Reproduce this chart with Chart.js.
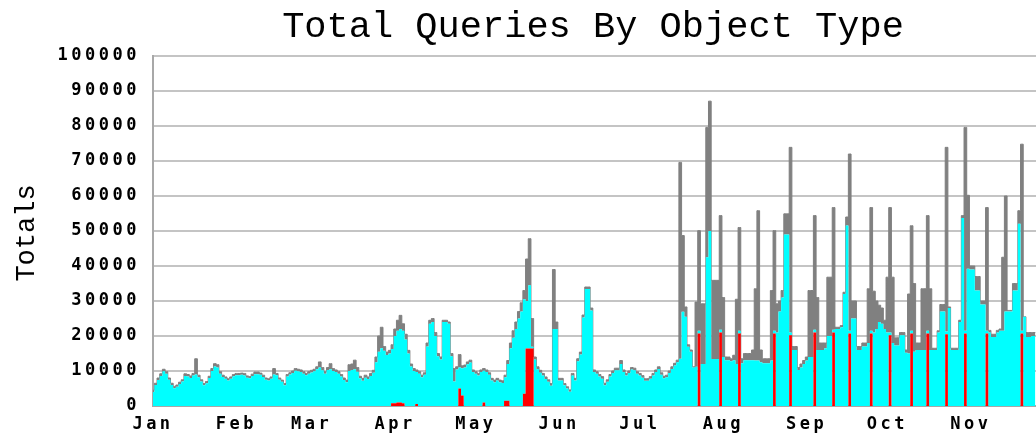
<!DOCTYPE html>
<html>
<head>
<meta charset="utf-8">
<title>Total Queries By Object Type</title>
<script src="https://cdn.jsdelivr.net/npm/chart.js@4"></script>
<style>
  html, body { margin: 0; padding: 0; background: #fff; overflow: hidden; }
  #wrap { width: 1036px; height: 435px; }
</style>
</head>
<body>
<div id="wrap"><canvas id="queryChart" width="1036" height="435"></canvas></div>
<script>
const chartTitle = 'Total Queries By Object Type';
const yTitle = 'Totals';

// month labels and the day (from Jan 1) each one starts on
const months = ['Jan', 'Feb', 'Mar', 'Apr', 'May', 'Jun', 'Jul', 'Aug', 'Sep', 'Oct', 'Nov'];
const monthStart = [0, 31, 59, 90, 120, 151, 181, 212, 243, 273, 304];

// daily totals, all object types stacked (top of the grey)
const totalQueries = [
  4500, 6500, 8000, 9200, 10500, 9800, 8000, 6500, 5600, 6000,
  6800, 7500, 9200, 9000, 8600, 9300, 13500, 8800, 7500, 6400,
  7000, 8500, 10700, 12100, 11800, 9800, 8800, 8300, 7800, 8300,
  9000, 9300, 9300, 9400, 9300, 8600, 8400, 9100, 9700, 9700,
  9400, 8800, 8000, 7800, 8300, 10700, 9300, 8000, 7400, 6400,
  9000, 9500, 10000, 10700, 10500, 10300, 9800, 9300, 9800, 10200,
  10500, 11200, 12600, 11000, 9800, 11000, 12100, 10700, 10300, 9800,
  9000, 8000, 7400, 11800, 12000, 13100, 11000, 8500, 7900, 8800,
  8300, 9300, 10200, 14000, 20000, 22500, 17000, 15400, 15900, 17500,
  22000, 24500, 25900, 23500, 20500, 15900, 12000, 10700, 10300, 9800,
  8800, 9500, 18000, 24500, 25000, 21000, 15000, 14000, 24500, 24500,
  24000, 15000, 10700, 11200, 14700, 11500, 11700, 12600, 13100, 10300,
  9800, 9300, 10300, 10700, 10300, 9500, 7900, 7400, 7900, 7400,
  7200, 8800, 13000, 18000, 21500, 24000, 27000, 29500, 33000, 42000,
  47800, 25000, 14000, 11200, 10200, 9300, 8300, 7500, 6400, 39000,
  24000, 7900, 7900, 6400, 5500, 4600, 9300, 7900, 13500, 15400,
  26000, 34000, 34000, 28000, 10300, 9800, 9000, 8400, 6500, 7500,
  9000, 10000, 10800, 10800, 13000, 10300, 9300, 10000, 11000, 10800,
  9800, 9300, 8700, 7800, 7800, 8400, 9300, 10300, 11200, 9500,
  8500, 8800, 10000, 11200, 12200, 13100, 69600, 48700, 28300, 17500,
  16000, 11200, 29700, 50100, 29200, 29200, 79600, 87100, 35900, 35900,
  35900, 54400, 31000, 14000, 14000, 13500, 14500, 30500, 51000, 13500,
  15000, 15000, 15000, 16000, 33500, 55800, 16000, 13500, 13500, 13500,
  33000, 50100, 29200, 30000, 33000, 54900, 54900, 73900, 17000, 17000,
  11000, 12000, 13000, 14000, 33000, 33000, 54400, 31000, 18000, 18000,
  18000, 36800, 36800, 56700, 22500, 22500, 23000, 32500, 54000, 72000,
  30000, 30000, 17000, 17000, 18000, 18000, 33500, 56700, 32800, 30000,
  28800, 28000, 24500, 36800, 56700, 36800, 19500, 19500, 21000, 21000,
  16000, 32000, 51500, 35000, 18000, 18000, 33500, 33500, 54400, 33500,
  16500, 16500, 21500, 29000, 29000, 73900, 28300, 16500, 16500, 16500,
  24500, 54400, 79600, 60200, 40000, 40000, 37000, 37000, 30000, 30000,
  56700, 21600, 20500, 20500, 21600, 22000, 42500, 60000, 27300, 27300,
  35000, 35000, 55800, 74800, 25500, 21000, 21000, 21000, 21000
];

// cyan layer (its own height, sits on top of the red)
const cyanQueries = [
  4000, 6000, 7400, 8600, 9900, 9200, 7500, 6000, 5100, 5500,
  6300, 7000, 8600, 8400, 8000, 8700, 9000, 8200, 7000, 5900,
  6500, 8000, 10000, 11300, 11000, 9200, 8300, 7800, 7300, 7800,
  8500, 8800, 8800, 8900, 8700, 8100, 7900, 8600, 9100, 9100,
  8900, 8300, 7500, 7300, 7800, 9000, 8800, 7500, 6900, 5900,
  8400, 9000, 9400, 10100, 9900, 9700, 9200, 8800, 9200, 9600,
  9900, 10500, 11000, 10200, 9200, 10300, 10500, 10000, 9700, 9200,
  8400, 7400, 6800, 10000, 10300, 10500, 9800, 7900, 7200, 8100,
  7700, 8600, 9500, 12500, 15500, 16500, 15800, 14600, 15000, 15500,
  19200, 20500, 21000, 20700, 19000, 15000, 11300, 10000, 9100, 9200,
  8200, 8900, 17000, 23500, 24000, 20000, 14200, 13300, 24000, 24000,
  23500, 14200, 7000, 10400, 6000, 7800, 11000, 11900, 12400, 9700,
  9200, 8700, 9700, 9100, 9700, 8900, 7300, 6800, 7300, 6800,
  6600, 6700, 10500, 16500, 19500, 22000, 25000, 27000, 27000, 13600,
  18100, 500, 13300, 10500, 9500, 8700, 7700, 6900, 5800, 22000,
  22000, 7300, 7300, 5900, 5000, 4100, 8700, 7300, 12800, 14700,
  25300, 33400, 33400, 27300, 9700, 9200, 8400, 7800, 5900, 6900,
  8400, 9400, 10200, 10200, 12000, 9700, 8700, 9400, 10400, 10200,
  9200, 8700, 8100, 7200, 7200, 7800, 8700, 9700, 10600, 8900,
  7900, 8200, 9400, 10600, 11600, 12500, 13500, 26900, 25500, 16900,
  15500, 11000, 11200, 800, 12000, 12000, 42500, 50000, 13400, 13400,
  13400, 800, 14000, 13100, 13100, 12800, 13100, 12000, 800, 12200,
  13100, 13100, 13100, 13100, 13000, 13000, 12500, 12200, 12200, 12200,
  13000, 800, 21000, 27000, 31000, 49000, 49000, 800, 16000, 16000,
  10300, 11000, 12000, 13000, 14000, 14000, 800, 16000, 16000, 16000,
  16500, 20000, 20000, 800, 22000, 22000, 22500, 32000, 51600, 800,
  25000, 25000, 16000, 16000, 17000, 17000, 18000, 800, 21000, 22000,
  24000, 23500, 22000, 21000, 800, 18000, 17300, 17300, 20200, 20200,
  15200, 15000, 800, 15500, 16000, 16000, 16000, 16000, 800, 16000,
  16000, 16000, 21000, 27000, 27000, 800, 28000, 16000, 16000, 16000,
  24000, 53700, 800, 39200, 39000, 39000, 33000, 33000, 29000, 29000,
  800, 21000, 19700, 19700, 21000, 21500, 21500, 27000, 27000, 27000,
  33000, 33000, 52100, 800, 25500, 19700, 19700, 20000, 20000
];

// red layer, only the days where it shows
const redDays = [89, 90, 91, 92, 93, 98, 114, 115, 123, 131, 132, 138, 139, 140, 141,
  203, 211, 218, 231, 237, 246, 253, 259, 267, 274, 282, 288, 295, 302, 310, 323];
const redQueries = [800, 800, 1000, 1000, 800, 600, 5000, 3000, 1000, 1500, 1500, 3500, 16400, 16400, 16400,
  20700, 21000, 20700, 20700, 20200, 21000, 21000, 20700, 20700, 20200, 20700, 20700, 20500, 20700, 20700, 20700];

const lastDay = 328.25;

const red = totalQueries.map((_, d) => {
  const k = redDays.indexOf(d);
  return k < 0 ? 0 : redQueries[k];
});
const grey = totalQueries.map((t, d) => Math.max(t - cyanQueries[d] - red[d], 0));

function toPoints(arr) {
  return arr.map((v, d) => ({ x: d, y: v }));
}

function stepArea(label, values, color, fill, border) {
  return {
    label,
    data: toPoints(values),
    backgroundColor: color,
    borderColor: '#7f7f7f',
    borderWidth: border || 0,
    fill,
    stepped: 'middle',
    pointRadius: 0
  };
}

const tickFont = { family: 'DejaVu Sans Mono', size: 17, weight: 'bold' };

const chartText = {
  id: 'chartText',
  beforeDraw(chart) {
    chart.ctx.letterSpacing = '3.5px';
  },
  afterDraw(chart) {
    const ctx = chart.ctx;
    ctx.save();
    ctx.letterSpacing = '0px';
    ctx.fillStyle = '#000';
    ctx.textAlign = 'center';
    ctx.textBaseline = 'alphabetic';
    ctx.font = '37px "Liberation Mono"';
    ctx.fillText(chartTitle, 593, 37);
    ctx.translate(27, 233);
    ctx.rotate(-Math.PI / 2);
    ctx.textBaseline = 'middle';
    ctx.font = '27px "Liberation Mono"';
    ctx.fillText(yTitle, 0, 0);
    ctx.restore();
  }
};

const ctx = document.getElementById('queryChart').getContext('2d');
new Chart(ctx, {
  type: 'line',
  data: {
    datasets: [
      stepArea('red', red, '#ff0000', 'origin'),
      stepArea('cyan', cyanQueries, '#00ffff', '-1'),
      stepArea('other', grey, '#808080', '-1', 1)
    ]
  },
  options: {
    responsive: false,
    animation: false,
    events: [],
    layout: { padding: { top: 56, left: 0, right: 0, bottom: 0 } },
    plugins: {
      legend: { display: false },
      tooltip: { enabled: false }
    },
    scales: {
      x: {
        type: 'linear',
        min: 0,
        max: lastDay,
        afterBuildTicks: s => { s.ticks = monthStart.map(v => ({ value: v })); },
        afterFit: s => { s.height = 29; },
        grid: { display: false, drawTicks: false },
        border: { color: '#a8a8a8', width: 2 },
        ticks: {
          autoSkip: false,
          maxRotation: 0,
          padding: 8,
          color: '#000',
          font: tickFont,
          callback: v => months[monthStart.indexOf(v)]
        }
      },
      y: {
        stacked: true,
        min: 0,
        max: 100000,
        afterFit: s => { s.width = 153; },
        grid: { color: '#c4c4c4', lineWidth: 2, drawTicks: false },
        border: { color: '#a8a8a8', width: 2 },
        ticks: { stepSize: 10000, padding: 13, color: '#000', font: tickFont, callback: v => String(v) }
      }
    }
  },
  plugins: [chartText]
});
</script>
</body>
</html>
